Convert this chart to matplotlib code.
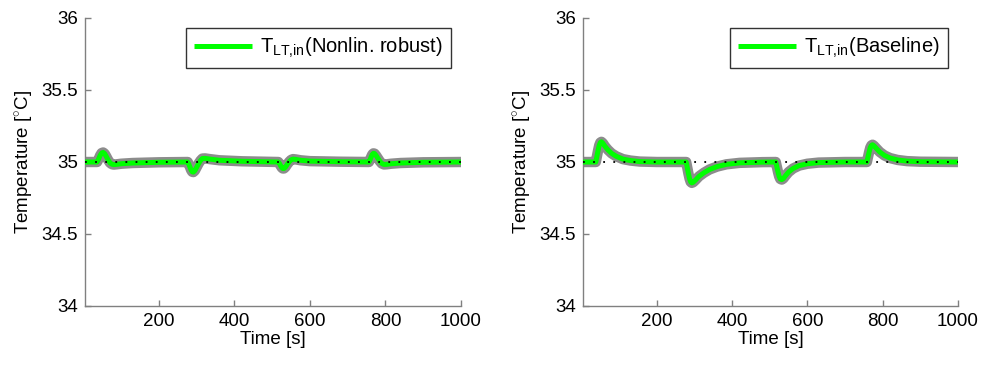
import matplotlib
matplotlib.use("Agg")
import matplotlib.pyplot as plt
from matplotlib.ticker import FixedLocator

plt.rcParams["font.family"] = ["Liberation Sans", "DejaVu Sans"]
plt.rcParams["mathtext.fontset"] = "custom"
plt.rcParams["mathtext.rm"] = "Liberation Sans"
plt.rcParams["mathtext.it"] = "Liberation Sans"

# Inlet temperature, nonlinear robust controller
t_robust = [4, 36, 40, 44, 48, 52, 56, 60, 65, 70, 75, 80, 88, 100, 130, 200, 276,
            279, 282, 285, 288, 291, 295, 300, 305, 310, 315, 322, 335, 360, 420, 516,
            519, 522, 525, 528, 531, 535, 540, 545, 550, 555, 562, 575, 600, 680, 756,
            759, 762, 765, 768, 771, 775, 780, 785, 790, 796, 803, 815, 840, 900, 1000]
T_robust = [35.0, 35.0, 35.02, 35.045, 35.062, 35.066, 35.058, 35.04, 35.015, 34.995, 34.985, 34.982, 34.984, 34.988, 34.993, 34.998, 35.0,
            34.985, 34.965, 34.945, 34.932, 34.93, 34.94, 34.965, 34.99, 35.01, 35.024, 35.025, 35.02, 35.012, 35.005, 35.0,
            34.99, 34.975, 34.962, 34.955, 34.955, 34.965, 34.985, 35.002, 35.015, 35.02, 35.018, 35.012, 35.006, 35.002, 35.0,
            35.015, 35.035, 35.052, 35.06, 35.058, 35.045, 35.025, 35.005, 34.99, 34.983, 34.984, 34.988, 34.993, 34.998, 35.0]

# Inlet temperature, baseline controller
t_base = [4, 38, 41, 44, 47, 50, 53, 57, 62, 70, 80, 92, 110, 130, 155, 200, 278,
          281, 284, 287, 290, 293, 297, 303, 312, 325, 340, 360, 385, 420, 480, 516,
          519, 522, 525, 528, 532, 536, 542, 550, 562, 578, 600, 630, 700, 758,
          761, 764, 767, 770, 773, 777, 783, 792, 805, 820, 840, 865, 900, 1000]
T_base = [35.0, 35.0, 35.04, 35.08, 35.115, 35.135, 35.14, 35.13, 35.11, 35.085, 35.06, 35.04, 35.02, 35.01, 35.003, 35.0, 35.0,
          34.96, 34.92, 34.885, 34.862, 34.855, 34.86, 34.875, 34.9, 34.925, 34.948, 34.968, 34.984, 34.994, 34.999, 35.0,
          34.965, 34.93, 34.9, 34.882, 34.878, 34.885, 34.905, 34.93, 34.955, 34.975, 34.988, 34.996, 35.0, 35.0,
          35.035, 35.07, 35.1, 35.115, 35.12, 35.112, 35.095, 35.07, 35.045, 35.027, 35.014, 35.006, 35.002, 35.0]

setpoint = 35.0
x_ticks = [200, 400, 600, 800, 1000]
y_ticks = [34, 34.5, 35, 35.5, 36]
y_tick_labels = ["34", "34.5", "35", "35.5", "36"]
labels = [r"T$_{\mathrm{LT{,}in}}$(Nonlin. robust)", r"T$_{\mathrm{LT{,}in}}$(Baseline)"]

fig = plt.figure(figsize=(9.84, 3.65), dpi=100)
H = 365.0
W = 984.0
boxes = [(85, 461), (583, 958)]
series = [(t_robust, T_robust), (t_base, T_base)]
legend_right = [451, 948]

for (x0, x1), (t, T), lab, lr in zip(boxes, series, labels, legend_right):
    ax = fig.add_axes([x0 / W, 1 - 306 / H, (x1 - x0) / W, (306 - 18) / H])
    ax.plot(t, T, color="#8c8c8c", lw=7.5, solid_capstyle="butt", zorder=2)
    line, = ax.plot(t, T, color="#00ff00", lw=3.6, solid_capstyle="butt", zorder=3, label=lab)
    ax.plot([t[0], t[-1]], [setpoint, setpoint], color="black", lw=1.3,
            linestyle=(0, (1.0, 4.6)), zorder=4)
    ax.set_xlim(4, 1000)
    ax.set_ylim(34, 36)
    ax.xaxis.set_major_locator(FixedLocator(x_ticks))
    ax.yaxis.set_major_locator(FixedLocator(y_ticks))
    ax.set_yticklabels(y_tick_labels)
    for s in ("top", "right"):
        ax.spines[s].set_visible(False)
    for s in ("left", "bottom"):
        ax.spines[s].set_color("#808080")
        ax.spines[s].set_linewidth(1.0)
    ax.tick_params(direction="in", length=4, width=1.0, color="#808080",
                   labelsize=13.5, labelcolor="black", pad=5)
    ax.set_xlabel("Time [s]", fontsize=13.5, labelpad=1)
    ax.set_ylabel(r"Temperature [$^{\circ}$C]", fontsize=13.5, labelpad=4)
    leg = ax.legend(handles=[line], loc="upper right",
                    bbox_to_anchor=((lr - x0) / (x1 - x0), (306 - 28) / 288),
                    fontsize=14.5, frameon=True, fancybox=False, handlelength=2.9,
                    handletextpad=0.4, borderpad=0.4, borderaxespad=0)
    leg.get_frame().set_edgecolor("black")
    leg.get_frame().set_linewidth(1.0)

fig.savefig("out.png", dpi=100)
